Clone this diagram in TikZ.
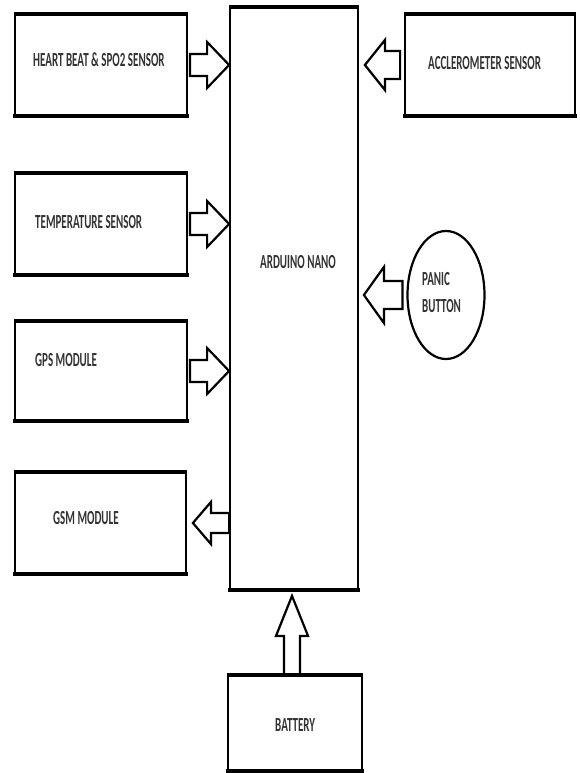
\documentclass[tikz,border=0pt]{standalone}
\usepackage{fontspec}
\newfontfamily\blockfont[FakeStretch=0.55]{Carlito}
\usepackage{tikz}
\usetikzlibrary{calc}
\usetikzlibrary{shapes.geometric}

\tikzset{
  block/.style={draw,line width=1.8pt,inner sep=0pt},
  blocklabel/.style={inner sep=0pt,anchor=west,align=left,text=black!80,
    font=\blockfont\bfseries\fontsize{20}{27}\selectfont},
  hollow/.style={draw,line width=2.2pt,line join=miter},
  fat arrow/.style n args={3}{to path={
    let \p1=($(\tikztotarget)-(\tikztostart)$), \n1={veclen(\x1,\y1)}, \n2={atan2(\y1,\x1)} in
    ($(\tikztostart)+(\n2+90:#3)$) -- ++(\n2:\n1-#1) -- ++(\n2+90:#2-#3) -- (\tikztotarget)
    -- ($(\tikztotarget)+(\n2+180:#1)+(\n2-90:#2)$) -- ++(\n2+90:#2-#3) -- ++(\n2+180:\n1-#1) -- cycle}}
}

\begin{document}
\begin{tikzpicture}[x=1pt,y=-1pt]
	\useasboundingbox (0,0) rectangle (579,773);

	\node[block,minimum width=172pt,minimum height=101pt] (heart) at (101,65) {};
	\node[block,minimum width=172pt,minimum height=100pt] (temp) at (101,224) {};
	\node[block,minimum width=172pt,minimum height=99pt] (gps) at (101,371) {};
	\node[block,minimum width=171pt,minimum height=100pt] (gsm) at (100.5,523) {};
	\node[block,minimum width=128pt,minimum height=581pt] (nano) at (294,298.5) {};
	\node[block,minimum width=170pt,minimum height=100pt] (accel) at (490,65) {};
	\node[block,minimum width=134pt,minimum height=94pt] (battery) at (295,723) {};
	\node[draw,ellipse,line width=2.2pt,minimum width=77pt,minimum height=128pt] (panic) at (446,295) {};

	\foreach \b in {heart,temp,gps,gsm,nano,accel,battery}
		\draw[line width=4pt,shorten <=-0.9pt,shorten >=-0.9pt]
			(\b.north west) -- (\b.north east) (\b.south west) -- (\b.south east);

	\node[blocklabel] (heart-text) at (33,60) {HEART BEAT \& SPO2 SENSOR};
	\node[blocklabel] (temp-text) at (35,222) {TEMPERATURE SENSOR};
	\node[blocklabel] (gps-text) at (35,360) {GPS MODULE};
	\node[blocklabel] (gsm-text) at (53,518) {GSM MODULE};
	\node[blocklabel] (nano-text) at (260,262) {ARDUINO NANO};
	\node[blocklabel] (accel-text) at (428,63) {ACCLEROMETER SENSOR};
	\node[blocklabel] (panic-text) at (422,293) {PANIC\\BUTTON};
	\node[blocklabel] (battery-text) at (275,725) {BATTERY};

	\draw[hollow] ([xshift=2pt]heart.east) to[fat arrow={22pt}{23pt}{11pt}] (heart.east -| nano.west);
	\draw[hollow] ([xshift=2pt]temp.east) to[fat arrow={22pt}{23pt}{11pt}] (temp.east -| nano.west);
	\draw[hollow] ([xshift=2pt]gps.east) to[fat arrow={22pt}{23pt}{11pt}] (gps.east -| nano.west);
	\draw[hollow] (gsm.east -| nano.west) to[fat arrow={18pt}{21pt}{10pt}] ([xshift=6pt]gsm.east);
	\draw[hollow] ([xshift=-4pt]accel.west) to[fat arrow={20pt}{25pt}{14pt}] ([xshift=6pt]accel.west -| nano.east);
	\draw[hollow] ([xshift=-4pt]panic.west) to[fat arrow={20pt}{28pt}{14pt}] ([xshift=5pt]panic.west -| nano.east);
	\draw[hollow] ([xshift=-3pt]battery.north) to[fat arrow={40pt}{16pt}{8pt}] ([xshift=-3pt,yshift=-6pt]battery.north |- nano.south);
\end{tikzpicture}
\end{document}
